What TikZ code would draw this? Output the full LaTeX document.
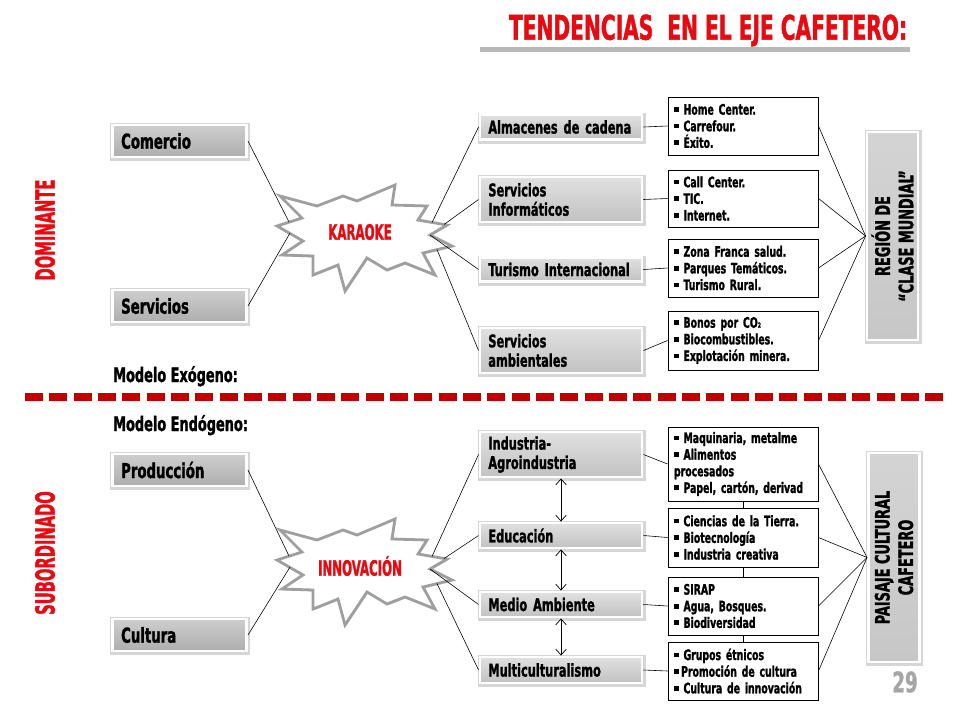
\documentclass[tikz,border=0pt]{standalone}
\usepackage{fontspec}
\usepackage{tikz}
\usetikzlibrary{shadows,arrows.meta}
\newfontfamily\imp{DejaVu Sans Condensed}[FakeStretch=0.72,BoldFeatures={FakeBold=1.3}]
\newfontfamily\impc{DejaVu Sans Condensed}[FakeStretch=0.62,BoldFeatures={FakeBold=1.3}]
\newfontfamily\impt{DejaVu Sans Condensed}[FakeStretch=0.66,BoldFeatures={FakeBold=1.3}]
\definecolor{tred}{RGB}{232,10,16}
\definecolor{dred}{RGB}{192,0,0}
\newcommand\bul{\rule[0.35ex]{0.6ex}{0.6ex}~}
\newcommand\fs[2]{\fontsize{#1}{#2}\selectfont}
\hyphenpenalty=10000
\tikzset{
 grybox/.style={draw=white,line width=2.5pt,top color=gray!38,bottom color=gray!64,
  general shadow={draw=black,fill=black,line width=5pt,opacity=.16,shadow xshift=.5pt,shadow yshift=-1pt},
  inner xsep=0.26cm,inner ysep=0pt,align=left},
 srcbox/.style={grybox,text width=3.5cm,minimum height=0.96cm,font=\imp\bfseries\fs{17.5}{18}},
 midbox/.style={grybox,top color=gray!24,bottom color=gray!48,text width=4.36cm,inner xsep=0.25cm,
  font=\imp\bfseries\fs{15}{16.5}},
 lstbox/.style={draw,line width=0.8pt,fill=white,text width=4.14cm,inner xsep=0.18cm,
  inner ysep=0pt,align=left,font=\imp\bfseries\fs{12.3}{14.2}},
 bigbox/.style={grybox,rotate=90,top color=gray!34,bottom color=gray!44,minimum height=1.53cm,
  align=center,inner xsep=0pt,font=\imp\bfseries\fs{17}{20}},
 burstln/.style={draw=gray!75,line width=2.4pt,line join=miter,fill=white,
  drop shadow={shadow xshift=.8pt,shadow yshift=-1.2pt,opacity=.3}},
 burstxt/.style={text=tred,font=\impc\bfseries\fs{18}{18}},
 cn/.style={line width=0.5pt},
 dbl/.style={line width=0.6pt,<->,>={Straight Barb[length=5pt,width=9pt]}},
 burst/.pic={
  \path[burstln](-80,-37)--(-43,-27)--(-17,-37)--(-3,-32)--(35,-48)--(32,-28)--(67,-27)
   --(58,-13)--(87,-8)--(70,2)--(92,13)--(63,20)--(75,42)--(45,30)--(27,37)--(7,25)
   --(-15,58)--(-22,32)--(-47,42)--(-47,23)--(-78,22)--(-57,8)--(-83,-7)--(-58,-15)--cycle;
  \coordinate(-w1)at(-71,-11);\coordinate(-w2)at(-70,0);
  \coordinate(-e1)at(72,-10.5);\coordinate(-e2)at(84,-8.5);
  \coordinate(-e3)at(70,2);\coordinate(-e4)at(77,16.6);
 }
}
\begin{document}
\begin{tikzpicture}[x=0.03cm,y=-0.03cm]
\useasboundingbox(0,0)rectangle(960,720);
% titulo
\fill[gray!55](480,47)rectangle(910,52);
\node[text=tred,font=\impt\bfseries\fs{29}{29},inner sep=0](tit)at(708,30.5){TENDENCIAS\ \ EN EL EJE CAFETERO:};
\node[rotate=90,text=tred,font=\impc\bfseries\fs{22.5}{22.5}](dom)at(45,230){DOMINANTE};
\node[rotate=90,text=tred,font=\impc\bfseries\fs{22.5}{22.5}](sub)at(45,553){SUBORDINADO};
\node[anchor=base west,inner sep=0,font=\imp\bfseries\fs{17}{17}](exo)at(113,382){Modelo Exógeno:};
\node[anchor=base west,inner sep=0,font=\imp\bfseries\fs{17}{17}](endo)at(113,431){Modelo Endógeno:};
\draw[dred,line width=6pt,dash pattern=on 0.54cm off 0.19cm](25,397)--(948,397);
% modelo exogeno
\node[srcbox](com)at(179.5,141){Comercio};
\node[srcbox](ser)at(179.5,306){Servicios};
\node[midbox,minimum height=0.75cm](alm)at(561,127){Almacenes de cadena};
\node[midbox,minimum height=1.35cm](inf)at(561,199.5){Servicios\\Informáticos};
\node[midbox,minimum height=0.72cm](tur)at(561,269.5){Turismo Internacional};
\node[midbox,minimum height=1.35cm](amb)at(561,350.5){Servicios\\ambientales};
\node[lstbox,minimum height=1.74cm](l1)at(743,126){\bul Home Center.\\\bul Carrefour.\\\bul Éxito.};
\node[lstbox,minimum height=1.71cm](l2)at(743,198.5){\bul Call Center.\\\bul TIC.\\\bul Internet.};
\node[lstbox,minimum height=1.74cm](l3)at(743,268){\bul Zona Franca salud.\\\bul Parques Temáticos.\\\bul Turismo Rural.};
\node[lstbox,minimum height=1.77cm](l4)at(743,340.5){\bul Bonos por CO{\fs{6}{6}2}\\\bul Biocombustibles.\\\bul Explotación minera.};
\node[bigbox,minimum width=6.24cm](reg)at(892.5,236){REGIÓN DE\\“CLASE MUNDIAL”};
\pic(kar)at(360,233){burst};
\node[burstxt](kart)at(360,232){KARAOKE};
% modelo endogeno
\node[srcbox](pro)at(179.5,470){Producción};
\node[srcbox](cul)at(179.5,635){Cultura};
\node[midbox,minimum height=1.35cm](ind)at(561,454.5){Industria-\\Agroindustria};
\node[midbox,minimum height=0.75cm](edu)at(561,535.5){Educación};
\node[midbox,minimum height=0.75cm](med)at(561,604.5){Medio Ambiente};
\node[midbox,minimum height=0.78cm](mul)at(561,670){Multiculturalismo};
\node[lstbox,minimum height=2.22cm](l5)at(743,464){\bul Maquinaria, metalme\\\bul Alimentos\\procesados\\\bul Papel, cartón, derivad};
\node[lstbox,minimum height=1.77cm](l6)at(743,537.5){\bul Ciencias de la Tierra.\\\bul Biotecnología\\\bul Industria creativa};
\node[lstbox,minimum height=1.74cm](l7)at(743,606){\bul SIRAP\\\bul Agua, Bosques.\\\bul Biodiversidad};
\node[lstbox,minimum height=1.74cm](l8)at(743,671){\bul Grupos étnicos\\\rule[0.35ex]{0.6ex}{0.6ex}\,Promoción de cultura\\\bul Cultura de innovación};
\node[bigbox,minimum width=6.27cm](pai)at(894,557.5){PAISAJE CULTURAL\\CAFETERO};
\pic(inn)at(360,567){burst};
\node[burstxt](innt)at(360,566){INNOVACIÓN};
\node[text=gray!70,font=\imp\bfseries\fs{24}{24}](pag)at(905,682){29};
% conectores
\foreach \a/\b in {com/kar-w1,ser/kar-w2,pro/inn-w1,cul/inn-w2}\draw[cn](\a.east)--(\b);
\foreach \a/\b in {e1/alm,e2/inf,e3/tur,e4/amb}\draw[cn](kar-\a)--(\b.west);
\foreach \a/\b in {e1/ind,e2/edu,e3/med,e4/mul}\draw[cn](inn-\a)--(\b.west);
\foreach \a/\b in {alm/l1,inf/l2,tur/l3,amb/l4,ind/l5,edu/l6,med/l7,mul/l8}\draw[cn](\a.east)--(\b.west);
\foreach \b in {l1,l2,l3,l4}\draw[cn](\b.east)--(reg.north);
\foreach \b in {l5,l6,l7,l8}\draw[cn](\b.east)--(pai.north);
\foreach \a/\b in {l5/l6,l6/l7,l7/l8}\draw[cn](\a.south)--(\b.north);
\foreach \a/\b in {ind/edu,edu/med,med/mul}\draw[dbl](\a.south)--(\b.north);
\end{tikzpicture}
\end{document}
